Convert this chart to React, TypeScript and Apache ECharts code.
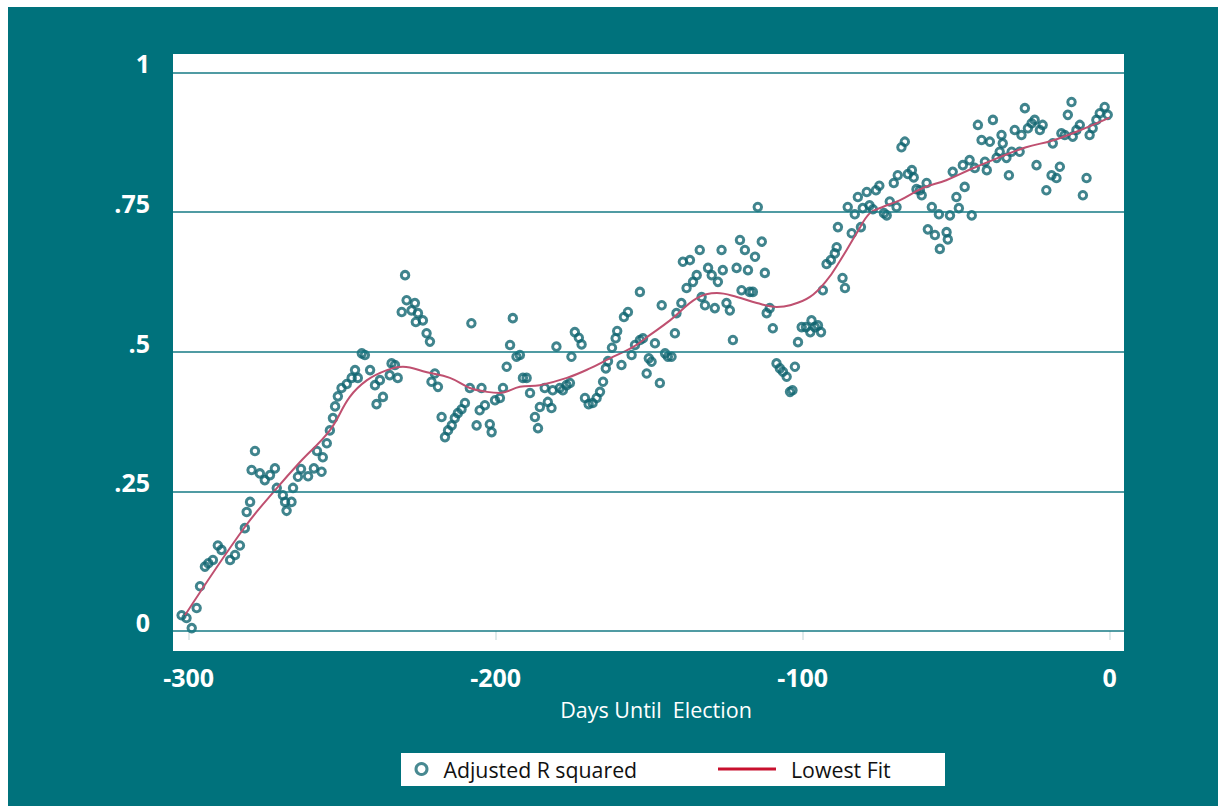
import React, { useEffect, useRef } from "react";
import * as echarts from "echarts";

// Adjusted R squared, by days until election
const days = [
  -302.3, -300.7, -299.0, -297.4, -296.3, -294.7, -293.6, -292.1, -290.5, -289.3,
  -286.5, -284.9, -283.3, -281.7, -281.1, -280.0, -279.5, -278.4, -276.8, -275.2,
  -273.5, -271.9, -271.3, -269.3, -268.6, -268.1, -266.5, -266.0, -264.4, -263.4,
  -261.1, -259.2, -258.2, -256.7, -256.3, -255.0, -254.0, -253.0, -252.3, -251.4,
  -250.2, -248.5, -246.9, -245.8, -244.9, -243.6, -242.6, -240.9, -239.3, -238.8,
  -237.7, -236.7, -234.5, -233.9, -232.8, -231.9, -230.6, -229.5, -229.0, -227.4,
  -226.3, -225.3, -226.0, -223.7, -222.5, -221.4, -220.9, -219.8, -218.8, -217.6,
  -216.5, -215.5, -214.3, -213.3, -212.3, -211.1, -210.0, -208.4, -207.9, -206.2,
  -205.2, -204.6, -203.5, -201.9, -201.3, -200.2, -198.6, -197.6, -196.4, -195.3,
  -194.4, -193.2, -192.1, -191.1, -189.9, -188.8, -187.2, -186.2, -185.6, -184.0,
  -183.0, -181.8, -181.4, -180.2, -179.1, -178.1, -176.9, -175.8, -175.3, -174.2,
  -172.9, -172.0, -170.9, -169.7, -168.4, -167.1, -166.0, -165.0, -164.1, -163.4,
  -162.1, -160.9, -160.4, -159.0, -158.2, -156.9, -155.7, -154.6, -153.0, -153.0,
  -152.0, -150.8, -150.1, -149.2, -148.1, -146.5, -145.9, -144.8, -143.9, -142.7,
  -141.6, -141.1, -139.5, -139.0, -137.8, -136.7, -135.7, -134.5, -133.5, -132.9,
  -131.8, -130.8, -129.6, -128.6, -127.6, -126.4, -126.0, -124.8, -123.7, -122.7,
  -121.5, -120.4, -119.9, -118.8, -117.8, -117.2, -116.2, -115.5, -114.6, -113.3,
  -112.3, -111.7, -110.7, -109.7, -108.5, -107.4, -106.4, -105.2, -104.1, -103.3,
  -102.5, -101.5, -100.3, -98.9, -97.1, -97.5, -96.0, -95.0, -94.0, -93.4,
  -92.2, -90.8, -89.5, -88.9, -88.5, -87.0, -86.2, -85.3, -84.0, -83.0,
  -82.0, -81.0, -80.4, -79.1, -78.2, -77.1, -76.1, -75.0, -73.5, -72.6,
  -71.6, -70.3, -69.4, -69.0, -67.8, -66.7, -65.7, -64.4, -63.8, -62.9,
  -61.8, -61.2, -59.6, -59.2, -57.9, -56.9, -55.6, -55.3, -53.1, -52.7,
  -52.0, -51.1, -49.9, -49.1, -47.8, -47.2, -45.6, -44.9, -43.9, -42.9,
  -41.7, -40.6, -40.0, -39.0, -38.0, -36.8, -35.8, -35.2, -34.8, -33.6,
  -32.8, -31.9, -30.9, -29.3, -28.7, -27.6, -26.6, -25.4, -24.4, -23.8,
  -22.7, -21.8, -20.6, -18.9, -18.5, -17.3, -16.2, -15.7, -14.6, -13.6,
  -12.4, -12.0, -10.8, -9.7, -8.7, -7.5, -6.5, -5.5, -4.3, -3.2,
  -1.6, -0.6,
];

const adjR2 = [
  0.028, 0.023, 0.005, 0.041, 0.080, 0.115, 0.121, 0.127, 0.153, 0.145,
  0.127, 0.136, 0.153, 0.184, 0.213, 0.231, 0.288, 0.322, 0.282, 0.270,
  0.279, 0.291, 0.256, 0.243, 0.231, 0.215, 0.231, 0.256, 0.276, 0.290,
  0.277, 0.291, 0.322, 0.285, 0.311, 0.336, 0.359, 0.381, 0.402, 0.420,
  0.435, 0.442, 0.453, 0.467, 0.453, 0.497, 0.494, 0.467, 0.440, 0.406,
  0.449, 0.419, 0.458, 0.479, 0.476, 0.453, 0.571, 0.637, 0.592, 0.574,
  0.587, 0.569, 0.553, 0.556, 0.533, 0.518, 0.446, 0.461, 0.437, 0.383,
  0.347, 0.359, 0.368, 0.381, 0.390, 0.397, 0.408, 0.435, 0.551, 0.368,
  0.395, 0.435, 0.404, 0.370, 0.356, 0.413, 0.417, 0.435, 0.473, 0.512,
  0.560, 0.491, 0.494, 0.453, 0.453, 0.426, 0.383, 0.363, 0.401, 0.435,
  0.410, 0.399, 0.431, 0.509, 0.435, 0.431, 0.440, 0.444, 0.491, 0.535,
  0.525, 0.513, 0.417, 0.406, 0.408, 0.417, 0.428, 0.446, 0.470, 0.483,
  0.507, 0.524, 0.537, 0.476, 0.562, 0.571, 0.494, 0.512, 0.607, 0.521,
  0.524, 0.461, 0.488, 0.482, 0.515, 0.444, 0.583, 0.497, 0.491, 0.491,
  0.533, 0.569, 0.587, 0.661, 0.614, 0.664, 0.625, 0.637, 0.682, 0.598,
  0.583, 0.650, 0.637, 0.578, 0.625, 0.682, 0.646, 0.587, 0.574, 0.521,
  0.650, 0.700, 0.610, 0.682, 0.646, 0.607, 0.607, 0.670, 0.759, 0.697,
  0.641, 0.569, 0.578, 0.542, 0.479, 0.470, 0.464, 0.455, 0.428, 0.431,
  0.473, 0.517, 0.544, 0.544, 0.556, 0.535, 0.544, 0.547, 0.535, 0.610,
  0.657, 0.664, 0.676, 0.687, 0.723, 0.632, 0.614, 0.759, 0.712, 0.746,
  0.777, 0.723, 0.757, 0.786, 0.762, 0.755, 0.789, 0.797, 0.748, 0.744,
  0.769, 0.802, 0.759, 0.816, 0.866, 0.876, 0.818, 0.825, 0.812, 0.791,
  0.789, 0.780, 0.802, 0.719, 0.759, 0.709, 0.746, 0.684, 0.714, 0.701,
  0.744, 0.822, 0.777, 0.757, 0.834, 0.795, 0.843, 0.744, 0.829, 0.906,
  0.879, 0.840, 0.825, 0.876, 0.915, 0.847, 0.858, 0.888, 0.873, 0.847,
  0.816, 0.858, 0.897, 0.858, 0.888, 0.936, 0.900, 0.909, 0.915, 0.834,
  0.897, 0.906, 0.789, 0.816, 0.873, 0.811, 0.831, 0.891, 0.888, 0.924,
  0.947, 0.885, 0.897, 0.906, 0.780, 0.811, 0.888, 0.900, 0.915, 0.927,
  0.938, 0.924,
];

// Lowess fit curve
const fitDays = [
  -301.2, -281.7, -271.2, -263.8, -254.0, -247.5, -241.9, -235.4, -230.2, -222.4,
  -214.9, -208.4, -202.8, -198.6, -192.1, -185.6, -176.8, -169.3, -162.8, -155.3,
  -149.7, -143.2, -134.4, -127.9, -121.4, -114.9, -108.4, -104.1, -97.6, -92.1,
  -87.9, -82.4, -78.1, -73.9, -68.4, -60.8, -53.2, -44.7, -35.9, -27.2,
  -18.6, -9.8, 0.0,
];
const fitValues = [
  0.028, 0.186, 0.256, 0.302, 0.359, 0.419, 0.449, 0.467, 0.473, 0.463,
  0.453, 0.435, 0.428, 0.426, 0.437, 0.440, 0.453, 0.470, 0.488, 0.508,
  0.530, 0.556, 0.596, 0.605, 0.598, 0.587, 0.580, 0.583, 0.598, 0.628,
  0.662, 0.712, 0.748, 0.759, 0.771, 0.793, 0.807, 0.828, 0.848, 0.866,
  0.878, 0.896, 0.919,
];

const xTickValues = [-300, -200, -100, 0];
const yTickValues = [0, 0.25, 0.5, 0.75, 1];
const yTickLabels = ["0", ".25", ".5", ".75", "1"];

const seriesNames = ["Adjusted R squared", "Lowest Fit"];
const xTitle = "Days Until  Election";

const TEAL_BG = "#00727c";
const MARKER = "#106570";
const FIT_LINE = "#bf5070";
const LEGEND_LINE = "#c8102e";
const GRID_LINE = "#167a84";
const FONT = "'Open Sans', 'Noto Sans', sans-serif";

export default function App() {
  const ref = useRef<HTMLDivElement>(null);

  useEffect(() => {
    if (!ref.current) return;
    const chart = echarts.init(ref.current, undefined, { renderer: "svg" });

    const scatterData = days.map((d, i) => [d, adjR2[i]]);
    const fitData = fitDays.map((d, i) => [d, fitValues[i]]);

    chart.setOption({
      animation: false,
      backgroundColor: TEAL_BG,
      textStyle: { fontFamily: FONT },
      grid: {
        left: 165,
        top: 47,
        right: 94,
        bottom: 155,
        show: true,
        backgroundColor: "#ffffff",
        borderWidth: 0,
        containLabel: false,
      },
      xAxis: {
        type: "value",
        min: -305.1,
        max: 4.7,
        axisLine: { show: false },
        axisTick: {
          show: true,
          customValues: xTickValues,
          length: 9,
          lineStyle: { color: "#d5e3e4", width: 1.5 },
        },
        axisLabel: {
          customValues: xTickValues,
          color: "#ffffff",
          fontWeight: "bold",
          fontSize: 25,
          fontFamily: FONT,
          margin: 13,
        },
        splitLine: { show: false },
        name: xTitle,
        nameLocation: "middle",
        nameGap: 47,
        nameTextStyle: {
          color: "#ffffff",
          fontSize: 21.5,
          fontFamily: FONT,
          padding: [0, 0, 0, 15],
        },
      },
      yAxis: {
        type: "value",
        min: -0.036,
        max: 1.033,
        axisLine: { show: false },
        axisTick: { show: false },
        splitLine: { show: false },
        axisLabel: {
          customValues: yTickValues,
          formatter: (v: number) => {
            const idx = yTickValues.findIndex((t) => Math.abs(t - v) < 1e-6);
            return idx >= 0 ? yTickLabels[idx] : "";
          },
          color: "#ffffff",
          fontWeight: "bold",
          fontSize: 25,
          fontFamily: FONT,
          margin: 23,
          verticalAlign: "bottom",
          lineHeight: 18,
        },
      },
      legend: [
        {
          data: [seriesNames[0]],
          left: 401.5,
          top: 745,
          itemWidth: 11,
          itemHeight: 11,
          icon: "circle",
          selectedMode: false,
          itemStyle: { color: "#ffffff", borderColor: "#1a6c75", borderWidth: 3 },
          textStyle: {
            color: "#111111",
            fontSize: 21.3,
            fontFamily: FONT,
            lineHeight: 24,
            padding: [0, 0, 0, 11.5],
          },
        },
        {
          data: [seriesNames[1]],
          left: 705,
          top: 745,
          itemWidth: 58,
          itemHeight: 3,
          icon: "rect",
          selectedMode: false,
          itemStyle: { color: LEGEND_LINE, borderWidth: 0 },
          textStyle: {
            color: "#111111",
            fontSize: 21.3,
            fontFamily: FONT,
            lineHeight: 24,
            padding: [0, 0, 0, 10],
          },
        },
      ],
      graphic: [
        {
          type: "rect",
          left: 393,
          top: 746,
          z: 0,
          shape: { width: 544, height: 33 },
          style: { fill: "#ffffff" },
          silent: true,
        },
      ],
      series: [
        {
          name: "gridlines",
          type: "line",
          data: [],
          z: 1,
          silent: true,
          markLine: {
            silent: true,
            symbol: ["none", "none"],
            label: { show: false },
            lineStyle: { color: GRID_LINE, width: 1.6, type: "solid" },
            data: yTickValues.map((v) => ({ yAxis: v })),
          },
        },
        {
          name: seriesNames[0],
          type: "scatter",
          data: scatterData,
          symbol: "circle",
          symbolSize: 7.5,
          z: 2,
          itemStyle: {
            color: "rgba(255,255,255,0)",
            borderColor: MARKER,
            borderWidth: 3,
          },
        },
        {
          name: seriesNames[1],
          type: "line",
          data: fitData,
          smooth: 0.4,
          showSymbol: false,
          symbol: "none",
          z: 3,
          lineStyle: { color: FIT_LINE, width: 2 },
        },
      ],
    });

    return () => chart.dispose();
  }, []);

  return (
    <div
      ref={ref}
      style={{ position: "absolute", left: 8, top: 7, width: 1210, height: 799 }}
    />
  );
}
